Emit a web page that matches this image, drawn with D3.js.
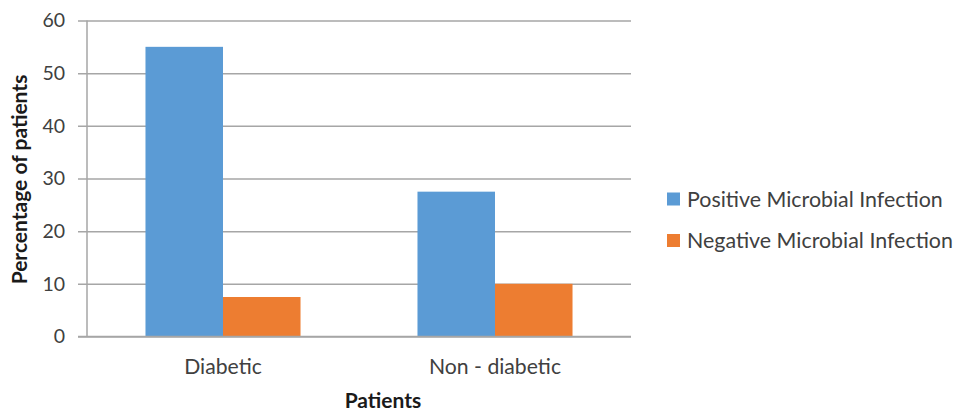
<!DOCTYPE html>
<html>
<head>
<meta charset="utf-8">
<script src="https://cdn.jsdelivr.net/npm/d3@7"></script>
<style>
  html, body { margin: 0; padding: 0; background: #fff; }
  svg { display: block; font-family: Lato, "Open Sans", sans-serif; }
</style>
</head>
<body>
<svg id="chart" width="953" height="411"></svg>
<script>
// Patient groups along the x axis
const categories = ["Diabetic", "Non - diabetic"];
// Series names, shown in the legend
const seriesNames = ["Positive Microbial Infection", "Negative Microbial Infection"];
// Percentage of patients per group, one array per series
const positiveValues = [55, 27.5];
const negativeValues = [7.5, 10];
// Value axis ticks
const yTicks = [0, 10, 20, 30, 40, 50, 60];

const colors = ["#5B9BD5", "#ED7D31"];
const seriesValues = [positiveValues, negativeValues];

const svg = d3.select("#chart");
const plot = { left: 87, right: 631, top: 20.5, bottom: 336.5 };
const tickOut = 9;

const x = d3.scaleBand()
  .domain(categories)
  .range([plot.left, plot.right])
  .paddingInner(0.43)
  .paddingOuter(0.215);

const xSeries = d3.scaleBand()
  .domain(seriesNames)
  .range([0, x.bandwidth()]);

const y = d3.scaleLinear()
  .domain([0, 60])
  .range([plot.bottom, plot.top]);

const gridColor = "#a6a6a6";
const textColor = "#404040";
const titleColor = "#1a1a1a";

// Horizontal gridlines with short outward ticks, plus tick labels
const yAxis = d3.axisLeft(y)
  .tickValues(yTicks)
  .tickSize(0)
  .tickPadding(13)
  .tickFormat(d3.format("d"));

const gy = svg.append("g")
  .attr("transform", `translate(${plot.left - tickOut},0)`)
  .call(yAxis);
gy.select(".domain").remove();
gy.selectAll(".tick line")
  .attr("x1", 0)
  .attr("x2", plot.right - plot.left + tickOut)
  .attr("stroke", gridColor)
  .attr("stroke-width", 1.5);
gy.selectAll(".tick text")
  .attr("fill", textColor)
  .style("font-size", "19.5px")
  .style("font-family", "Lato, sans-serif");

// Vertical value axis line
svg.append("line")
  .attr("x1", plot.left).attr("x2", plot.left)
  .attr("y1", plot.top).attr("y2", plot.bottom)
  .attr("stroke", gridColor)
  .attr("stroke-width", 1.5);

// Bars
const groups = svg.append("g")
  .selectAll("g")
  .data(categories)
  .join("g")
  .attr("transform", d => `translate(${x(d)},0)`);

groups.selectAll("rect")
  .data((d, i) => seriesNames.map((s, k) => ({ series: s, value: seriesValues[k][i], color: colors[k] })))
  .join("rect")
  .attr("x", d => xSeries(d.series))
  .attr("width", xSeries.bandwidth())
  .attr("y", d => y(d.value))
  .attr("height", d => y(0) - y(d.value))
  .attr("fill", d => d.color);

// Redraw the baseline above the bars
svg.append("line")
  .attr("x1", plot.left - tickOut).attr("x2", plot.right)
  .attr("y1", y(0)).attr("y2", y(0))
  .attr("stroke", gridColor)
  .attr("stroke-width", 1.5);

// Category labels
const xAxis = d3.axisBottom(x).tickSize(0);
const gx = svg.append("g")
  .attr("transform", `translate(0,${plot.bottom})`)
  .call(xAxis);
gx.select(".domain").remove();
gx.selectAll(".tick text")
  .attr("y", 37.5)
  .attr("dy", 0)
  .attr("fill", textColor)
  .style("font-size", "21.2px")
  .style("font-family", "Lato, sans-serif");

// Axis titles
svg.append("text")
  .attr("x", 383)
  .attr("y", 408)
  .attr("text-anchor", "middle")
  .attr("fill", titleColor)
  .style("font-size", "21px")
  .style("font-weight", "bold")
  .text("Patients");

svg.append("text")
  .attr("transform", `translate(27,179.5) rotate(-90)`)
  .attr("text-anchor", "middle")
  .attr("fill", titleColor)
  .style("font-size", "21px")
  .style("font-weight", "bold")
  .text("Percentage of patients");

// Legend
const legend = svg.append("g")
  .selectAll("g")
  .data(seriesNames)
  .join("g")
  .attr("transform", (d, i) => `translate(667,${199 + i * 41.5})`);

legend.append("rect")
  .attr("x", 0).attr("y", -6.5)
  .attr("width", 13).attr("height", 13)
  .attr("fill", (d, i) => colors[i]);

legend.append("text")
  .attr("x", 20)
  .attr("y", 0)
  .attr("dy", "0.36em")
  .attr("fill", textColor)
  .style("font-size", "21.4px")
  .text(d => d);
</script>
</body>
</html>
